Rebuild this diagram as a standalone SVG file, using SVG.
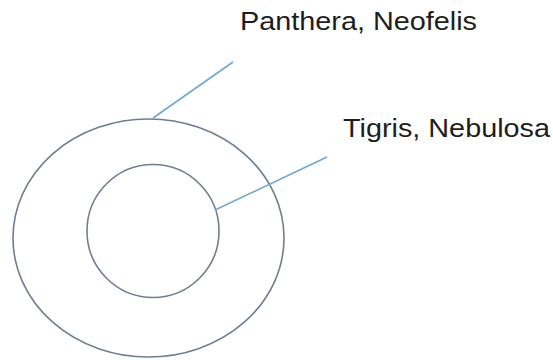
<svg xmlns="http://www.w3.org/2000/svg" width="553" height="360" viewBox="0 0 553 360">
<style>
.ring{fill:none;stroke:#6f7f90;stroke-width:1.6}
.lead{fill:none;stroke:#6fa9d2;stroke-width:1.6}
.lbl{font-family:"Liberation Sans",Arial,sans-serif;font-size:26px;fill:#1e1e1e}
</style>
<rect width="553" height="360" fill="#ffffff"/>
<g id="outer"><ellipse class="ring" cx="148.5" cy="238" rx="135.5" ry="119"/></g>
<g id="inner"><ellipse class="ring" cx="153" cy="231" rx="66" ry="66.5"/></g>
<g id="connectors">
<line class="lead" x1="153" y1="118" x2="233" y2="62"/>
<line class="lead" x1="215" y1="210" x2="327" y2="157"/>
</g>
<g id="label-panthera"><text class="lbl" x="240" y="30" textLength="237" lengthAdjust="spacingAndGlyphs">Panthera, Neofelis</text></g>
<g id="label-tigris"><text class="lbl" x="343" y="137" textLength="207" lengthAdjust="spacingAndGlyphs">Tigris, Nebulosa</text></g>
</svg>
